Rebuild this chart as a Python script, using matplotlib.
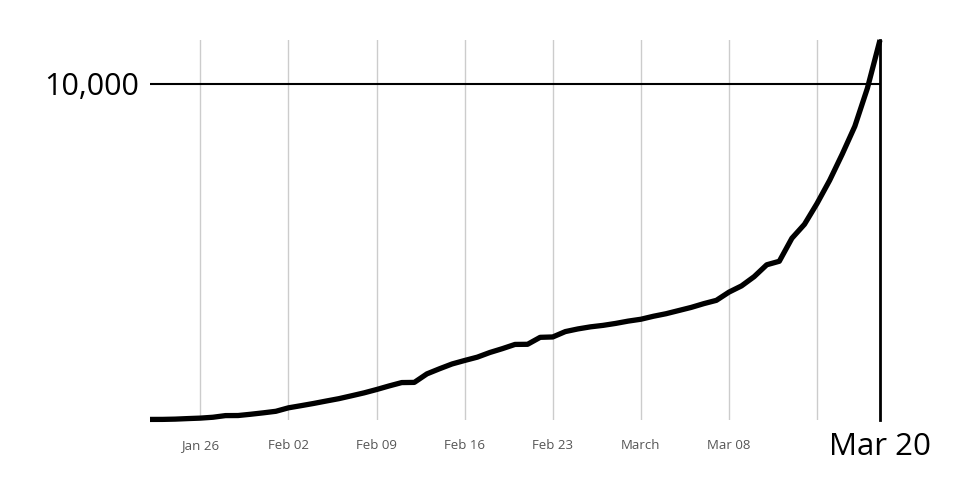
import pandas as pd
import matplotlib.pyplot as plt
import matplotlib.dates as mdates

plt.rcParams['font.family'] = ['Open Sans', 'DejaVu Sans']

# cumulative count per day, Jan 22 .. Mar 20
dates = pd.date_range("2020-01-22", "2020-03-20", freq="D")
values = [17, 18, 26, 42, 56, 82, 131, 133, 171, 213,
          259, 362, 426, 492, 564, 634, 719, 806, 906, 1013,
          1113, 1118, 1371, 1523, 1666, 1770, 1868, 2007, 2122, 2247,
          2251, 2458, 2469, 2629, 2708, 2770, 2814, 2872, 2941,
          2996, 3085, 3160, 3254, 3348, 3460, 3558, 3802, 3988, 4262,
          4615, 4720, 5404, 5819, 6440, 7126, 7905, 8733, 9867, 11299]

tick_dates = pd.to_datetime(["2020-01-26", "2020-02-02", "2020-02-09", "2020-02-16",
                             "2020-02-23", "2020-03-01", "2020-03-08", "2020-03-15"])
tick_labels = ["Jan 26", "Feb 02", "Feb 09", "Feb 16", "Feb 23", "March", "Mar 08", ""]

end_date = pd.Timestamp("2020-03-20")

fig = plt.figure(figsize=(9.6, 5), dpi=100)
ax = fig.add_axes([150 / 960, 80 / 500, 730 / 960, 380 / 500])

# vertical gridlines
for d in tick_dates:
    ax.axvline(d, color="#cccccc", lw=1, zorder=1)

# the one horizontal reference line
ax.axhline(10000, color="black", lw=1.5, zorder=2)

# end marker
ax.axvline(end_date, color="black", lw=2, zorder=2, clip_on=False)

ax.plot(dates, values, color="black", lw=3.8, zorder=3, clip_on=False,
        solid_joinstyle="round", solid_capstyle="butt")

ax.set_xlim(dates[0], end_date)
ax.set_ylim(0, 11299)

ax.set_xticks(tick_dates)
ax.set_xticklabels(tick_labels, fontsize=9.5, color="#555555")
ax.tick_params(axis="x", length=0, pad=14)

ax.set_yticks([10000])
ax.set_yticklabels(["10,000"], fontsize=22, color="black")
ax.tick_params(axis="y", length=0, pad=8)

ax.annotate("Mar 20", xy=(end_date, 0), xytext=(0, -27), textcoords="offset pixels",
            fontsize=22.5, ha="center", va="center")

for s in ax.spines.values():
    s.set_visible(False)

plt.savefig("out.png", dpi=100)
